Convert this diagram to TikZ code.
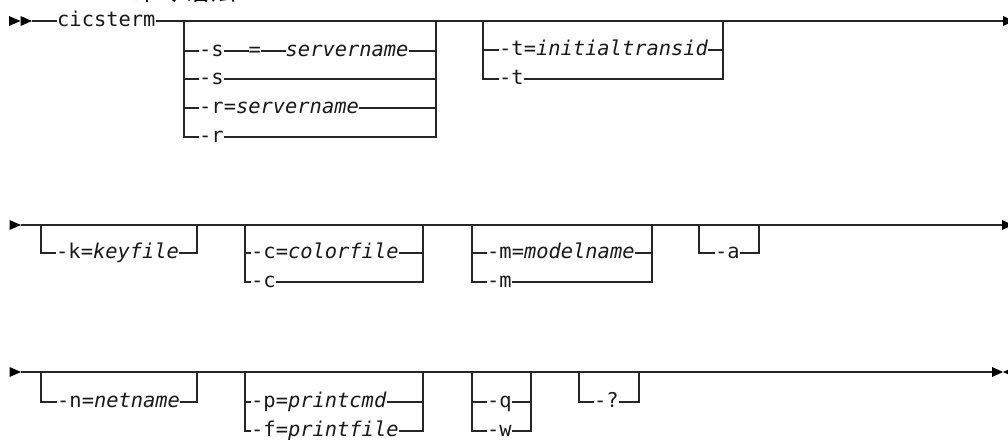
\documentclass[tikz,border=0pt]{standalone}
\usepackage{fontspec}
\newfontfamily\rmono{DejaVu Sans Mono}[ItalicFont={DejaVu Sans Mono Oblique}]
\newfontfamily\cjk{Noto Sans CJK SC}
\newcommand\rrfont{\rmono\fontsize{20.4}{24}\selectfont}
\begin{document}
\begin{tikzpicture}[x=1pt,y=-1pt,
  rail/.style={line width=1.2pt, draw=black!85},
  opt/.style={font=\rrfont, inner sep=0pt, text height=11pt, text depth=0pt, anchor=west, text=black!90},
  tipr/.style={fill=black, draw=none},
]
\useasboundingbox (0,0) rectangle (1008,439);
% title (cut off at top)
\node[font=\cjk\fontsize{26}{26}\selectfont, anchor=base, inner sep=0pt] (title) at (184.5,0) {命令语法};

%%%%%%%%%%%%%%%% ROW 1 (y=21)
\coordinate (s1) at (32,21);
\coordinate (e1) at (1003,21);
\fill[tipr] (9,16) -- (20.5,21) -- (9,26) -- cycle;
\fill[tipr] (20.5,16) -- (32,21) -- (20.5,26) -- cycle;
\fill[tipr] (1003,16) -- (1014,21) -- (1003,26) -- cycle;
\node[opt] (cmd) at (57,21) {cicsterm};
\draw[rail] (s1) -- (cmd.west);
\draw[rail] (cmd.east) -- (e1);

% group 1
\coordinate (g1a) at (184,21);
\coordinate (g1b) at (436,21);
\node[opt] (o1s)  at (199,51)  {-s};
\node[opt] (o1eq) at (248.5,51) {=};
\node[opt] (o1sv) at (285.5,51) {\textit{servername}};
\node[opt] (o2)   at (199,79)  {-s};
\node[opt] (o3)   at (199,108) {-r=\textit{servername}};
\node[opt] (o4)   at (199,137) {-r};
\draw[rail] (g1a) |- (o4.west);
\draw[rail] (o4.east) -| (g1b);
\draw[rail] (g1a |- o1s.west) -- (o1s.west);
\draw[rail] (o1s.east) -- (o1eq.west);
\draw[rail] (o1eq.east) -- (o1sv.west);
\draw[rail] (o1sv.east) -- (g1b |- o1sv.east);
\draw[rail] (g1a |- o2.west) -- (o2.west);
\draw[rail] (o2.east) -- (g1b |- o2.east);
\draw[rail] (g1a |- o3.west) -- (o3.west);
\draw[rail] (o3.east) -- (g1b |- o3.east);

% group 2
\coordinate (g2a) at (483,21);
\coordinate (g2b) at (723,21);
\node[opt] (t1) at (499,50) {-t=\textit{initialtransid}};
\node[opt] (t2) at (499,79) {-t};
\draw[rail] (g2a) |- (t2.west);
\draw[rail] (t2.east) -| (g2b);
\draw[rail] (g2a |- t1.west) -- (t1.west);
\draw[rail] (t1.east) -- (g2b |- t1.east);

%%%%%%%%%%%%%%%% ROW 2 (y=225)
\coordinate (s2) at (21,225);
\coordinate (e2) at (1002,225);
\fill[tipr] (9.5,220) -- (21,225) -- (9.5,230) -- cycle;
\fill[tipr] (1002,220) -- (1013,225) -- (1002,230) -- cycle;
\draw[rail] (s2) -- (e2);

% k
\coordinate (gka) at (41,225);
\coordinate (gkb) at (197,225);
\node[opt] (k1) at (56,253) {-k=\textit{keyfile}};
\draw[rail] (gka) |- (k1.west);
\draw[rail] (k1.east) -| (gkb);

% c
\coordinate (gca) at (245,225);
\coordinate (gcb) at (423,225);
\node[opt] (c1) at (251,253) {-c=\textit{colorfile}};
\node[opt] (c2) at (251,282) {-c};
\draw[rail] (gca) |- (c2.west);
\draw[rail] (c2.east) -| (gcb);
\draw[rail] (gca |- c1.west) -- (c1.west);
\draw[rail] (c1.east) -- (gcb |- c1.east);

% m
\coordinate (gma) at (472,225);
\coordinate (gmb) at (652,225);
\node[opt] (m1) at (487,253) {-m=\textit{modelname}};
\node[opt] (m2) at (487,282) {-m};
\draw[rail] (gma) |- (m2.west);
\draw[rail] (m2.east) -| (gmb);
\draw[rail] (gma |- m1.west) -- (m1.west);
\draw[rail] (m1.east) -- (gmb |- m1.east);

% a
\coordinate (gaa) at (699,225);
\coordinate (gab) at (759,225);
\node[opt] (a1) at (715,253) {-a};
\draw[rail] (gaa) |- (a1.west);
\draw[rail] (a1.east) -| (gab);

%%%%%%%%%%%%%%%% ROW 3 (y=372)
\coordinate (s3) at (21,372);
\coordinate (e3) at (992,372);
\fill[tipr] (9.5,367) -- (21,372) -- (9.5,377) -- cycle;
\fill[tipr] (992,367) -- (1003,372) -- (992,377) -- cycle;
\fill[tipr] (1014,367) -- (1003,372) -- (1014,377) -- cycle;
\draw[rail] (s3) -- (e3);

% n
\coordinate (gna) at (41,372);
\coordinate (gnb) at (197,372);
\node[opt] (n1) at (57,402) {-n=\textit{netname}};
\draw[rail] (gna) |- (n1.west);
\draw[rail] (n1.east) -| (gnb);

% p / f
\coordinate (gpa) at (245,372);
\coordinate (gpb) at (423,372);
\node[opt] (p1) at (251,402) {-p=\textit{printcmd}};
\node[opt] (p2) at (251,431) {-f=\textit{printfile}};
\draw[rail] (gpa) |- (p2.west);
\draw[rail] (p2.east) -| (gpb);
\draw[rail] (gpa |- p1.west) -- (p1.west);
\draw[rail] (p1.east) -- (gpb |- p1.east);

% q / w
\coordinate (gqa) at (472,372);
\coordinate (gqb) at (531,372);
\node[opt] (q1) at (487,402) {-q};
\node[opt] (q2) at (487,431) {-w};
\draw[rail] (gqa) |- (q2.west);
\draw[rail] (q2.east) -| (gqb);
\draw[rail] (gqa |- q1.west) -- (q1.west);
\draw[rail] (q1.east) -- (gqb |- q1.east);

% ?
\coordinate (gxa) at (579,372);
\coordinate (gxb) at (639,372);
\node[opt] (x1) at (594,402) {-?};
\draw[rail] (gxa) |- (x1.west);
\draw[rail] (x1.east) -| (gxb);
\end{tikzpicture}
\end{document}
